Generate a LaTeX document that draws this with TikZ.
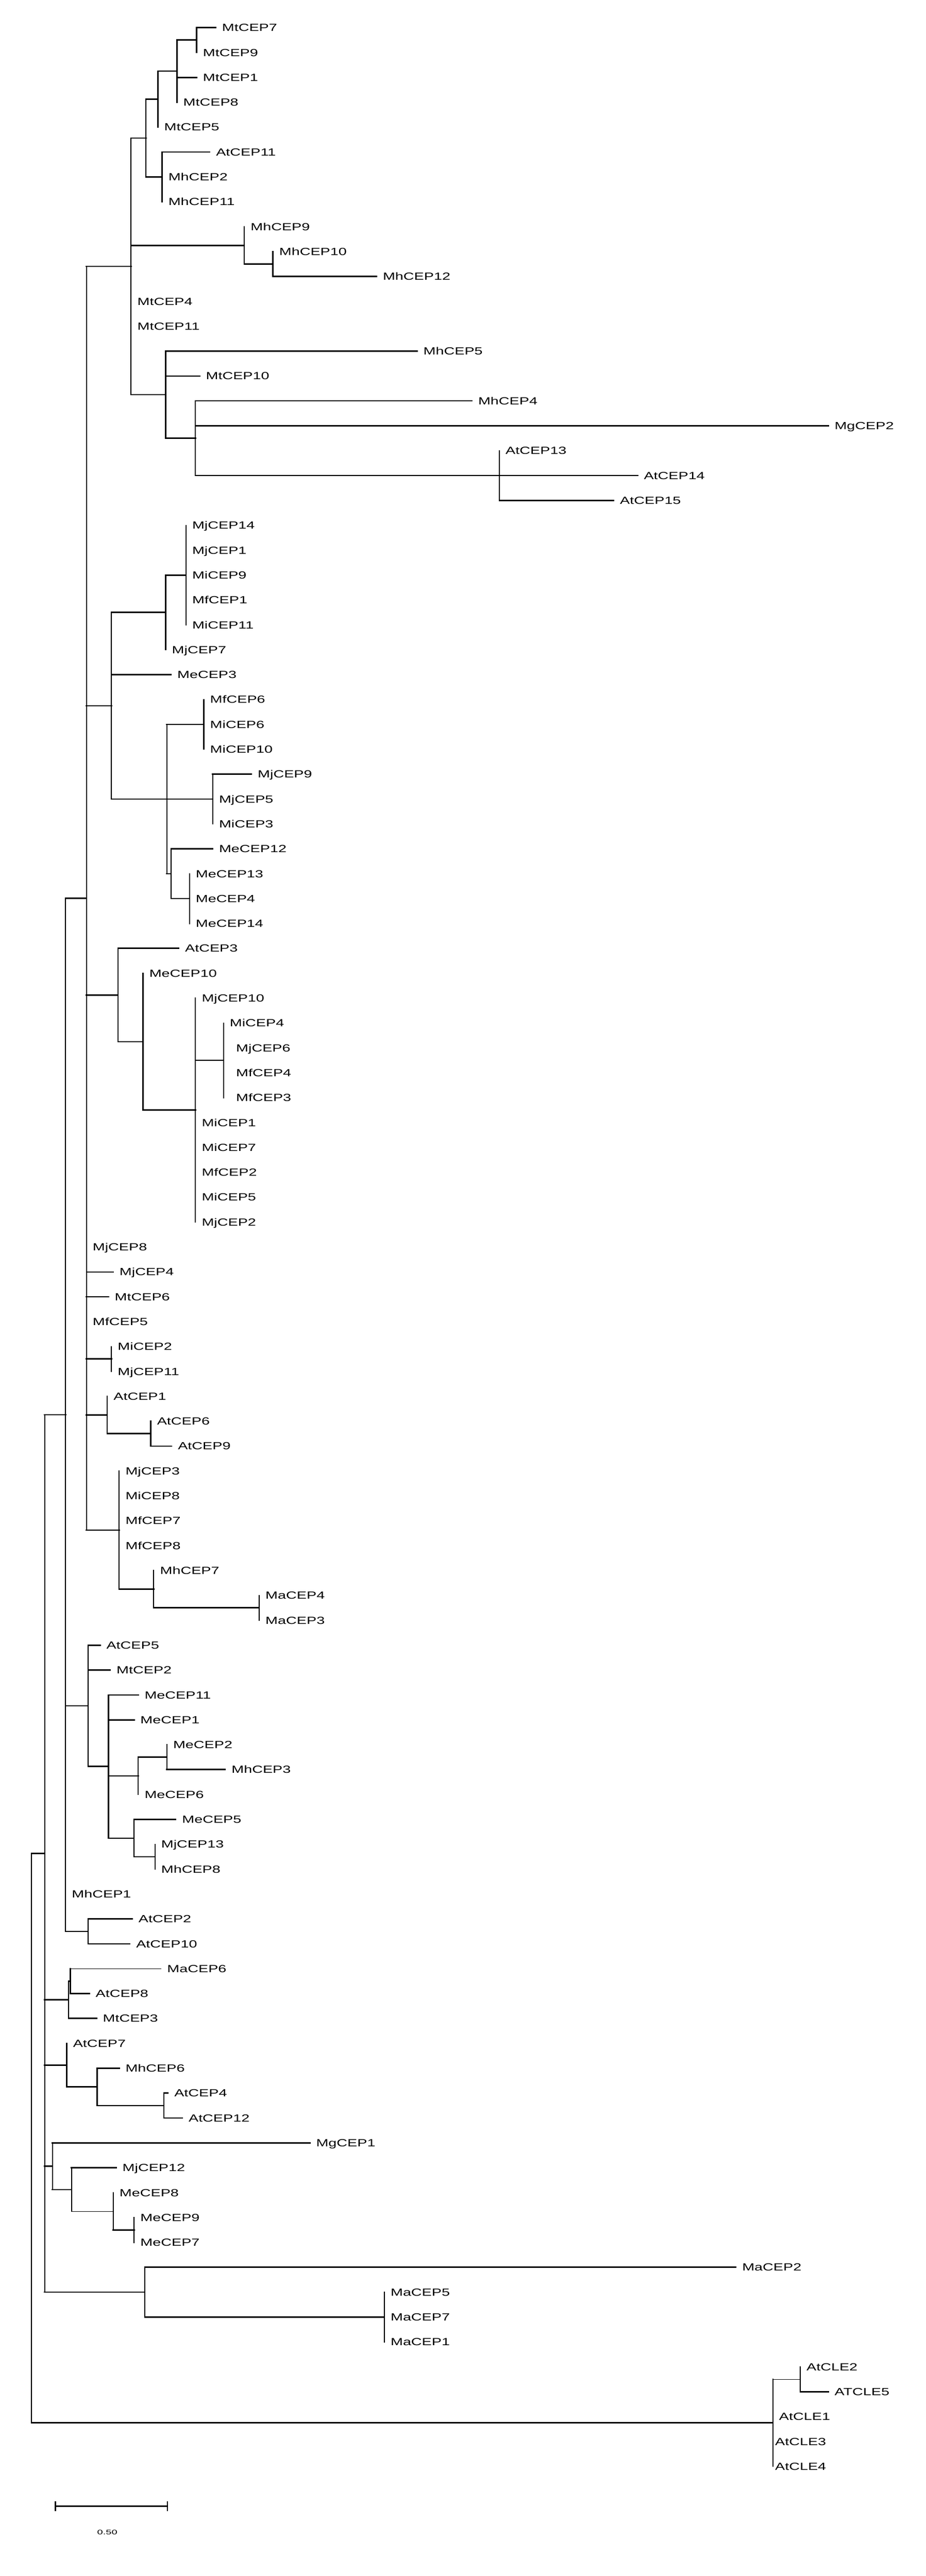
\documentclass[tikz,border=0pt]{standalone}
\usepackage{fontspec}
\newfontfamily\labfont{Liberation Sans}[FakeStretch=1.43]
\newfontfamily\sbfont{Liberation Sans}[FakeStretch=1.6]
\newcommand\tbr[3][hk]{\draw[vl] (#2) -- (#2 |- #3); \draw[#1] (#2 |- #3) -- (#3);}
\newcommand\zbr[2]{\draw[vl] (#1) -- (#1 |- #2);}
\begin{document}
\begin{tikzpicture}[x=0.01294cm,y=-0.5405cm,
  vl/.style={line width=0.7pt,line cap=rect},
  hk/.style={line width=0.85pt,line cap=rect},
  hm/.style={line width=0.6pt,line cap=rect},
  ht/.style={line width=0.4pt,line cap=rect},
  lf/.style={anchor=west,inner xsep=0.13cm,inner ysep=0pt,text height=1.6mm,text depth=0pt,font=\labfont\fontsize{6.4}{7}\selectfont}]
\useasboundingbox (0,0) rectangle (20.1cm,-55.95cm);
\begin{scope}[yshift=-0.0595cm]
% ---------- leaves ----------
\node[lf] (MtCEP7) at (362,1) {MtCEP7};
\node[lf] (MtCEP9) at (330,2) {MtCEP9};
\node[lf] (MtCEP1) at (330,3) {MtCEP1};
\node[lf] (MtCEP8) at (297,4) {MtCEP8};
\node[lf] (MtCEP5) at (265,5) {MtCEP5};
\node[lf] (AtCEP11) at (352,6) {AtCEP11};
\node[lf] (MhCEP2) at (272,7) {MhCEP2};
\node[lf] (MhCEP11) at (272,8) {MhCEP11};
\node[lf] (MhCEP9) at (410,9) {MhCEP9};
\node[lf] (MhCEP10) at (458,10) {MhCEP10};
\node[lf] (MhCEP12) at (632,11) {MhCEP12};
\node[lf] (MtCEP4) at (220,12) {MtCEP4};
\node[lf] (MtCEP11) at (220,13) {MtCEP11};
\node[lf] (MhCEP5) at (700,14) {MhCEP5};
\node[lf] (MtCEP10) at (335,15) {MtCEP10};
\node[lf] (MhCEP4) at (792,16) {MhCEP4};
\node[lf] (MgCEP2) at (1390,17) {MgCEP2};
\node[lf] (AtCEP13) at (838,18) {AtCEP13};
\node[lf] (AtCEP14) at (1070,19) {AtCEP14};
\node[lf] (AtCEP15) at (1030,20) {AtCEP15};
\node[lf] (MjCEP14) at (312,21) {MjCEP14};
\node[lf] (MjCEP1) at (312,22) {MjCEP1};
\node[lf] (MiCEP9) at (312,23) {MiCEP9};
\node[lf] (MfCEP1) at (312,24) {MfCEP1};
\node[lf] (MiCEP11) at (312,25) {MiCEP11};
\node[lf] (MjCEP7) at (278,26) {MjCEP7};
\node[lf] (MeCEP3) at (287,27) {MeCEP3};
\node[lf] (MfCEP6) at (342,28) {MfCEP6};
\node[lf] (MiCEP6) at (342,29) {MiCEP6};
\node[lf] (MiCEP10) at (342,30) {MiCEP10};
\node[lf] (MjCEP9) at (422,31) {MjCEP9};
\node[lf] (MjCEP5) at (357,32) {MjCEP5};
\node[lf] (MiCEP3) at (357,33) {MiCEP3};
\node[lf] (MeCEP12) at (357,34) {MeCEP12};
\node[lf] (MeCEP13) at (318,35) {MeCEP13};
\node[lf] (MeCEP4) at (318,36) {MeCEP4};
\node[lf] (MeCEP14) at (318,37) {MeCEP14};
\node[lf] (AtCEP3) at (300,38) {AtCEP3};
\node[lf] (MeCEP10) at (240,39) {MeCEP10};
\node[lf] (MjCEP10) at (328,40) {MjCEP10};
\node[lf] (MiCEP4) at (375,41) {MiCEP4};
\node[lf,xshift=0.138cm] (MjCEP6) at (375,42) {MjCEP6};
\node[lf,xshift=0.138cm] (MfCEP4) at (375,43) {MfCEP4};
\node[lf,xshift=0.138cm] (MfCEP3) at (375,44) {MfCEP3};
\node[lf] (MiCEP1) at (328,45) {MiCEP1};
\node[lf] (MiCEP7) at (328,46) {MiCEP7};
\node[lf] (MfCEP2) at (328,47) {MfCEP2};
\node[lf] (MiCEP5) at (328,48) {MiCEP5};
\node[lf] (MjCEP2) at (328,49) {MjCEP2};
\node[lf] (MjCEP8) at (145,50) {MjCEP8};
\node[lf] (MjCEP4) at (190,51) {MjCEP4};
\node[lf] (MtCEP6) at (182,52) {MtCEP6};
\node[lf] (MfCEP5) at (145,53) {MfCEP5};
\node[lf] (MiCEP2) at (187,54) {MiCEP2};
\node[lf] (MjCEP11) at (187,55) {MjCEP11};
\node[lf] (AtCEP1) at (180,56) {AtCEP1};
\node[lf] (AtCEP6) at (253,57) {AtCEP6};
\node[lf] (AtCEP9) at (288,58) {AtCEP9};
\node[lf] (MjCEP3) at (200,59) {MjCEP3};
\node[lf] (MiCEP8) at (200,60) {MiCEP8};
\node[lf] (MfCEP7) at (200,61) {MfCEP7};
\node[lf] (MfCEP8) at (200,62) {MfCEP8};
\node[lf] (MhCEP7) at (258,63) {MhCEP7};
\node[lf] (MaCEP4) at (435,64) {MaCEP4};
\node[lf] (MaCEP3) at (435,65) {MaCEP3};
\node[lf] (AtCEP5) at (168,66) {AtCEP5};
\node[lf] (MtCEP2) at (185,67) {MtCEP2};
\node[lf] (MeCEP11) at (232,68) {MeCEP11};
\node[lf] (MeCEP1) at (225,69) {MeCEP1};
\node[lf] (MeCEP2) at (280,70) {MeCEP2};
\node[lf] (MhCEP3) at (378,71) {MhCEP3};
\node[lf] (MeCEP6) at (232,72) {MeCEP6};
\node[lf] (MeCEP5) at (295,73) {MeCEP5};
\node[lf] (MjCEP13) at (260,74) {MjCEP13};
\node[lf] (MhCEP8) at (260,75) {MhCEP8};
\node[lf] (MhCEP1) at (110,76) {MhCEP1};
\node[lf] (AtCEP2) at (222,77) {AtCEP2};
\node[lf] (AtCEP10) at (218,78) {AtCEP10};
\node[lf] (MaCEP6) at (270,79) {MaCEP6};
\node[lf] (AtCEP8) at (150,80) {AtCEP8};
\node[lf] (MtCEP3) at (162,81) {MtCEP3};
\node[lf] (AtCEP7) at (112,82) {AtCEP7};
\node[lf] (MhCEP6) at (200,83) {MhCEP6};
\node[lf] (AtCEP4) at (282,84) {AtCEP4};
\node[lf] (AtCEP12) at (306,85) {AtCEP12};
\node[lf] (MgCEP1) at (520,86) {MgCEP1};
\node[lf] (MjCEP12) at (195,87) {MjCEP12};
\node[lf] (MeCEP8) at (190,88) {MeCEP8};
\node[lf] (MeCEP9) at (225,89) {MeCEP9};
\node[lf] (MeCEP7) at (225,90) {MeCEP7};
\node[lf] (MaCEP2) at (1235,91) {MaCEP2};
\node[lf] (MaCEP5) at (645,92) {MaCEP5};
\node[lf] (MaCEP7) at (645,93) {MaCEP7};
\node[lf] (MaCEP1) at (645,94) {MaCEP1};
\node[lf] (AtCLE2) at (1343,95) {AtCLE2};
\node[lf] (ATCLE5) at (1390,96) {ATCLE5};
\node[lf] (AtCLE1) at (1297,97) {AtCLE1};
\node[lf,xshift=-0.088cm] (AtCLE3) at (1297,98) {AtCLE3};
\node[lf,xshift=-0.088cm] (AtCLE4) at (1297,99) {AtCLE4};
% ---------- internal nodes ----------
\coordinate (nA) at (330,1.5);
\coordinate (nB) at (297,2.75);
\coordinate (nC) at (265,3.875);
\coordinate (nE) at (272,7);
\coordinate (nD) at (245,5.4375);
\coordinate (nH) at (458,10.5);
\coordinate (nG) at (410,9.75);
\coordinate (nK) at (838,19);
\coordinate (nJ) at (328,17.5);
\coordinate (nI) at (278,15.75);
\coordinate (nF) at (220,10.59375);
\coordinate (nY) at (312,23);
\coordinate (nX) at (278,24.5);
\coordinate (nAB) at (342,29);
\coordinate (nAA) at (357,32);
\coordinate (nAD) at (318,36);
\coordinate (nAC) at (287,35);
\coordinate (nZ) at (280,32);
\coordinate (nM) at (187,28.25);
\coordinate (nAG) at (375,42.5);
\coordinate (nAF) at (328,44.5);
\coordinate (nAE) at (240,41.75);
\coordinate (nQ) at (198,39.875);
\coordinate (nR) at (187,54.5);
\coordinate (nT) at (253,57.5);
\coordinate (nS) at (180,56.75);
\coordinate (nW) at (435,64.5);
\coordinate (nV) at (258,63.75);
\coordinate (nU) at (200,61.375);
\coordinate (nN1) at (145,35.984);
\coordinate (nBE) at (280,70.5);
\coordinate (nBD) at (232,71.25);
\coordinate (nBG) at (260,74.5);
\coordinate (nBF) at (225,73.75);
\coordinate (nBC) at (182,70.875);
\coordinate (nBA) at (148,68.4375);
\coordinate (nBB) at (148,77.5);
\coordinate (nN0) at (110,56.742);
\coordinate (nCE) at (118,79.5);
\coordinate (nCA) at (115,80.25);
\coordinate (nCG) at (275,84.5);
\coordinate (nCF) at (163,83.75);
\coordinate (nCB) at (112,82.875);
\coordinate (nCJ) at (225,89.5);
\coordinate (nCI) at (190,88.75);
\coordinate (nCH) at (120,87.875);
\coordinate (nCC) at (88,86.9375);
\coordinate (nCK) at (645,93);
\coordinate (nCD) at (243,92);
\coordinate (nP) at (75,74.371);
\coordinate (nCM) at (1343,95.5);
\coordinate (nCL) at (1297,97.25);
\coordinate (root) at (53,85.81);
% ---------- branches ----------
\tbr{nA}{MtCEP7} \zbr{nA}{MtCEP9}
\tbr{nB}{nA} \tbr{nB}{MtCEP1} \zbr{nB}{MtCEP8}
\tbr{nC}{nB} \zbr{nC}{MtCEP5}
\tbr{nE}{AtCEP11} \zbr{nE}{MhCEP2} \zbr{nE}{MhCEP11}
\tbr{nD}{nC} \tbr{nD}{nE}
\zbr{nG}{MhCEP9} \tbr{nG}{nH}
\zbr{nH}{MhCEP10} \tbr{nH}{MhCEP12}
\zbr{nK}{AtCEP13} \tbr{nK}{AtCEP14} \tbr{nK}{AtCEP15}
\tbr{nJ}{MhCEP4} \tbr{nJ}{MgCEP2} \tbr{nJ}{nK}
\tbr{nI}{MhCEP5} \tbr{nI}{MtCEP10} \tbr{nI}{nJ}
\tbr{nF}{nD} \tbr{nF}{nG} \zbr{nF}{MtCEP4} \zbr{nF}{MtCEP11} \tbr{nF}{nI}
\zbr{nY}{MjCEP14} \zbr{nY}{MjCEP1} \zbr{nY}{MiCEP9} \zbr{nY}{MfCEP1} \zbr{nY}{MiCEP11}
\tbr{nX}{nY} \zbr{nX}{MjCEP7}
\zbr{nAB}{MfCEP6} \zbr{nAB}{MiCEP6} \zbr{nAB}{MiCEP10}
\tbr{nAA}{MjCEP9} \zbr{nAA}{MjCEP5} \zbr{nAA}{MiCEP3}
\zbr{nAD}{MeCEP13} \zbr{nAD}{MeCEP4} \zbr{nAD}{MeCEP14}
\tbr{nAC}{MeCEP12} \tbr[hm]{nAC}{nAD}
\tbr{nZ}{nAB} \tbr{nZ}{nAA} \tbr{nZ}{nAC}
\tbr{nM}{nX} \tbr{nM}{MeCEP3} \tbr{nM}{nZ}
\zbr{nAG}{MiCEP4} \zbr{nAG}{MjCEP6} \zbr{nAG}{MfCEP4} \zbr{nAG}{MfCEP3}
\zbr{nAF}{MjCEP10} \tbr{nAF}{nAG} \zbr{nAF}{MiCEP1} \zbr{nAF}{MiCEP7} \zbr{nAF}{MfCEP2} \zbr{nAF}{MiCEP5} \zbr{nAF}{MjCEP2}
\zbr{nAE}{MeCEP10} \tbr{nAE}{nAF}
\tbr{nQ}{AtCEP3} \tbr{nQ}{nAE}
\zbr{nR}{MiCEP2} \zbr{nR}{MjCEP11}
\zbr{nT}{AtCEP6} \tbr{nT}{AtCEP9}
\zbr{nS}{AtCEP1} \tbr{nS}{nT}
\zbr{nW}{MaCEP4} \zbr{nW}{MaCEP3}
\zbr{nV}{MhCEP7} \tbr{nV}{nW}
\zbr{nU}{MjCEP3} \zbr{nU}{MiCEP8} \zbr{nU}{MfCEP7} \zbr{nU}{MfCEP8} \tbr{nU}{nV}
\tbr{nN1}{nF} \tbr{nN1}{nM} \tbr{nN1}{nQ} \zbr{nN1}{MjCEP8} \tbr[hm]{nN1}{MjCEP4} \tbr{nN1}{MtCEP6} \zbr{nN1}{MfCEP5} \tbr{nN1}{nR} \tbr{nN1}{nS} \tbr{nN1}{nU}
\zbr{nBE}{MeCEP2} \tbr{nBE}{MhCEP3}
\tbr{nBD}{nBE} \zbr{nBD}{MeCEP6}
\zbr{nBG}{MjCEP13} \zbr{nBG}{MhCEP8}
\tbr{nBF}{MeCEP5} \tbr[hm]{nBF}{nBG}
\tbr{nBC}{MeCEP11} \tbr{nBC}{MeCEP1} \tbr{nBC}{nBD} \tbr[hm]{nBC}{nBF}
\tbr{nBA}{AtCEP5} \tbr{nBA}{MtCEP2} \tbr{nBA}{nBC}
\tbr{nBB}{AtCEP2} \tbr{nBB}{AtCEP10}
\tbr{nN0}{nN1} \tbr{nN0}{nBA} \zbr{nN0}{MhCEP1} \tbr[hm]{nN0}{nBB}
\tbr[ht]{nCE}{MaCEP6} \tbr{nCE}{AtCEP8}
\tbr{nCA}{nCE} \tbr{nCA}{MtCEP3}
\tbr{nCG}{AtCEP4} \tbr{nCG}{AtCEP12}
\tbr{nCF}{MhCEP6} \tbr{nCF}{nCG}
\zbr{nCB}{AtCEP7} \tbr{nCB}{nCF}
\zbr{nCJ}{MeCEP9} \zbr{nCJ}{MeCEP7}
\zbr{nCI}{MeCEP8} \tbr{nCI}{nCJ}
\tbr{nCH}{MjCEP12} \tbr[ht]{nCH}{nCI}
\tbr{nCC}{MgCEP1} \tbr{nCC}{nCH}
\zbr{nCK}{MaCEP5} \zbr{nCK}{MaCEP7} \zbr{nCK}{MaCEP1}
\tbr{nCD}{MaCEP2} \tbr{nCD}{nCK}
\tbr{nP}{nN0} \tbr{nP}{nCA} \tbr{nP}{nCB} \tbr{nP}{nCC} \tbr{nP}{nCD}
\zbr{nCM}{AtCLE2} \tbr{nCM}{ATCLE5}
\tbr[ht]{nCL}{nCM} \zbr{nCL}{AtCLE1} \zbr{nCL}{AtCLE3} \zbr{nCL}{AtCLE4}
\tbr{root}{nP} \tbr{root}{nCL}
% ---------- scale bar ----------
\coordinate (sbL) at (93,100.595);
\coordinate (sbR) at (281,100.595);
\coordinate (sbLt) at (93,100.43);
\coordinate (sbLb) at (93,100.78);
\coordinate (sbRt) at (281,100.43);
\coordinate (sbRb) at (281,100.78);
\draw[hk] (sbL) -- (sbR);
\draw[vl] (sbLt) -- (sbLb);
\draw[vl] (sbRt) -- (sbRb);
\node[font=\sbfont\fontsize{4}{5}\selectfont,inner sep=0pt] (sblab) at (180,101.65) {0.50};
\end{scope}
\end{tikzpicture}
\end{document}
